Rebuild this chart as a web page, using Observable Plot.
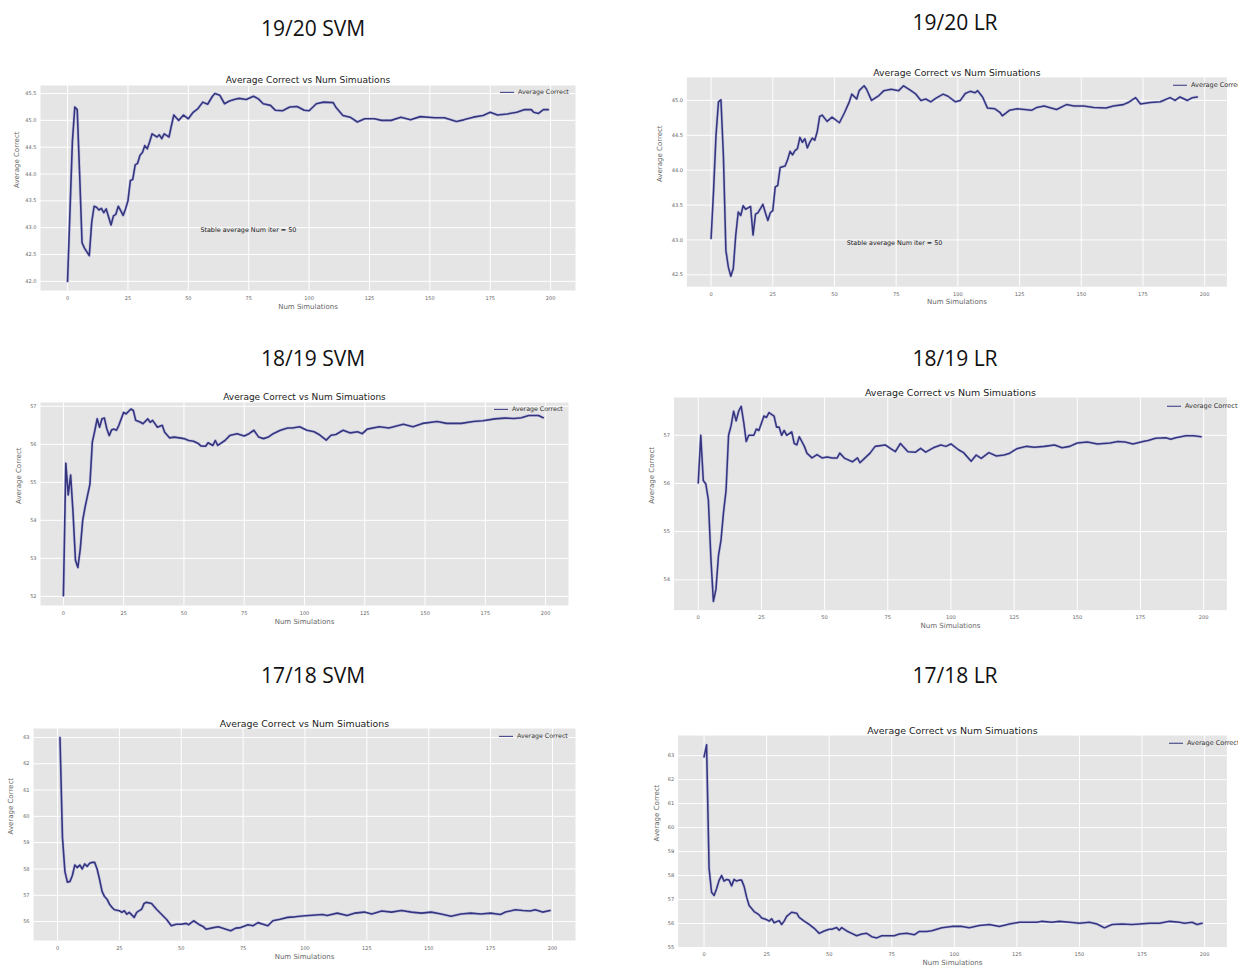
<!DOCTYPE html>
<html><head><meta charset="utf-8">
<script src="https://cdn.jsdelivr.net/npm/d3@7"></script>
<script src="https://cdn.jsdelivr.net/npm/@observablehq/plot@0.6"></script>
<style>
html,body{margin:0;padding:0;background:#fff;width:1238px;height:980px;overflow:hidden;}
#root{position:relative;width:1238px;height:980px;overflow:hidden;background:#fff;}
.heading{position:absolute;font-family:"Open Sans",sans-serif;font-size:21px;line-height:1;color:#111;transform:translate(-50%,-50%);white-space:nowrap;}
.panel{position:absolute;}
.legend{position:absolute;font-family:"DejaVu Sans",sans-serif;color:#333;display:flex;align-items:center;white-space:nowrap;transform:translateY(-50%);line-height:1;}
.legend .sw{display:inline-block;width:14px;height:0;border-top:1.7px solid #34347f;margin-right:4px;}
</style></head><body><div id="root"></div>
<script>
// ---------- data ----------
const xTicks = [0, 25, 50, 75, 100, 125, 150, 175, 200];
const headings = ["19/20 SVM", "19/20 LR", "18/19 SVM", "18/19 LR", "17/18 SVM", "17/18 LR"];
const plotTitle = "Average Correct vs Num Simuations";
const xLabel = "Num Simulations";
const yLabel = "Average Correct";
const seriesName = "Average Correct";
const noteText = ["Stable average Num iter = 50"];
const noteX = [55];
const noteY = [42.95];

const svm1920YTicks = [42.0, 42.5, 43.0, 43.5, 44.0, 44.5, 45.0, 45.5];
const lr1920YTicks = [42.5, 43.0, 43.5, 44.0, 44.5, 45.0];
const svm1819YTicks = [52, 53, 54, 55, 56, 57];
const lr1819YTicks = [54, 55, 56, 57];
const svm1718YTicks = [56, 57, 58, 59, 60, 61, 62, 63];
const lr1718YTicks = [55, 56, 57, 58, 59, 60, 61, 62, 63];

const svm1920X = [0,1,2,3,4,5,6,7,8,9,10,11,12,13,14,15,16,17,18,19,20,21,22,23,24,25,26,27,28,29,30,31,32,33,34,35,36,37,38,39,40,41,42,43,44,45,46,47,48,50,52,54,56,58,60,61,63,65,67,69,71,74,77,79,81,84,86,89,92,95,98,100,103,106,110,111,114,117,120,123,127,130,134,138,142,146,152,156,161,164,168,172,175,178,182,186,189,192,193,195,197,199];
const svm1920Y = [42.0,43.3,44.6,45.25,45.2,44.0,42.72,42.62,42.55,42.48,43.1,43.4,43.38,43.33,43.36,43.28,43.35,43.2,43.05,43.22,43.25,43.4,43.32,43.23,43.35,43.5,43.88,43.9,44.17,44.2,44.35,44.4,44.53,44.47,44.6,44.75,44.72,44.69,44.73,44.66,44.75,44.72,44.69,44.9,45.1,45.05,45.0,45.05,45.1,45.03,45.15,45.22,45.34,45.3,45.45,45.5,45.47,45.31,45.36,45.39,45.41,45.39,45.45,45.4,45.31,45.28,45.19,45.18,45.25,45.26,45.19,45.18,45.31,45.34,45.33,45.25,45.09,45.06,44.97,45.03,45.03,45.0,45.0,45.06,45.01,45.07,45.05,45.05,44.98,45.01,45.06,45.09,45.15,45.1,45.12,45.15,45.2,45.2,45.15,45.13,45.2,45.2];

const lr1920X = [0,1,2,3,4,5,6,7,8,9,10,11,12,13,14,15,16,17,18,19,20,21,22,23,24,25,26,27,28,29,30,31,32,33,34,35,36,37,38,39,40,41,42,43,44,45,47,49,52,54,56,57,59,60,62,63,65,68,70,73,76,78,81,83,85,87,89,91,94,96,99,101,103,105,107,108,110,112,115,117,118,121,124,127,130,132,135,137,140,144,147,151,155,160,163,167,169,172,174,178,182,186,188,190,193,195,197];
const lr1920Y = [43.02,43.7,44.5,44.98,45.01,44.2,42.85,42.61,42.48,42.59,43.07,43.4,43.35,43.49,43.44,43.46,43.48,43.07,43.37,43.39,43.45,43.51,43.39,43.28,43.39,43.42,43.76,43.78,44.04,44.05,44.06,44.15,44.27,44.22,44.28,44.31,44.47,44.4,44.45,44.32,44.4,44.46,44.43,44.55,44.77,44.79,44.7,44.76,44.68,44.82,44.98,45.09,45.02,45.14,45.21,45.16,45.0,45.07,45.14,45.16,45.14,45.21,45.14,45.09,45.0,45.02,44.98,45.03,45.09,45.06,44.98,45.0,45.1,45.13,45.11,45.14,45.05,44.89,44.88,44.83,44.78,44.86,44.88,44.87,44.86,44.9,44.92,44.9,44.87,44.94,44.92,44.92,44.9,44.89,44.92,44.94,44.97,45.04,44.95,44.97,44.98,45.04,45.0,45.05,45.0,45.04,45.05];

const svm1819X = [0,1,2,3,4,5,6,7,8,9,10,11,12,13,14,15,16,17,18,19,20,21,22,23,25,26,28,29,30,32,33,35,36,37,39,41,42,44,46,48,50,52,54,56,57,59,60,62,63,64,67,69,72,75,77,79,81,83,85,87,90,93,95,98,101,104,106,109,111,113,116,119,122,124,126,131,135,141,145,149,155,159,165,170,174,179,183,187,190,193,197,199];
const svm1819Y = [52.02,55.5,54.67,55.19,54.2,52.95,52.76,53.25,54.0,54.35,54.65,54.95,56.06,56.35,56.67,56.45,56.67,56.69,56.41,56.23,56.38,56.4,56.37,56.5,56.84,56.8,56.93,56.89,56.63,56.58,56.54,56.67,56.58,56.63,56.45,56.5,56.32,56.17,56.19,56.17,56.15,56.1,56.08,56.02,55.96,55.95,56.04,55.97,56.1,55.97,56.1,56.23,56.28,56.22,56.28,56.37,56.19,56.15,56.19,56.28,56.37,56.43,56.43,56.46,56.37,56.33,56.26,56.11,56.24,56.26,56.37,56.3,56.33,56.28,56.4,56.46,56.43,56.53,56.46,56.55,56.6,56.55,56.55,56.6,56.62,56.67,56.69,56.68,56.7,56.76,56.76,56.7];

const lr1819X = [0,1,2,3,4,5,6,7,8,9,10,11,12,13,14,15,16,17,18,19,20,22,23,24,26,27,28,30,31,32,33,34,35,37,38,39,40,42,43,45,47,49,51,53,55,56,58,61,63,64,66,68,70,74,76,78,80,83,86,88,90,93,96,98,100,103,105,108,110,112,115,118,121,123,126,130,133,137,141,144,147,150,154,158,163,166,169,172,176,178,181,185,187,189,193,196,199];
const lr1819Y = [56.01,57.0,56.06,55.99,55.66,54.45,53.55,53.8,54.5,54.82,55.4,55.85,57.0,57.2,57.5,57.3,57.5,57.6,57.27,56.87,57.0,57.0,57.13,57.1,57.4,57.37,57.47,57.4,57.17,57.17,57.0,57.1,57.0,57.07,56.83,56.8,56.97,56.77,56.63,56.53,56.6,56.53,56.55,56.53,56.53,56.63,56.52,56.45,56.53,56.43,56.53,56.63,56.77,56.8,56.73,56.66,56.83,56.66,56.65,56.73,56.65,56.74,56.8,56.77,56.82,56.7,56.64,56.46,56.59,56.52,56.64,56.57,56.59,56.62,56.72,56.77,56.75,56.77,56.8,56.74,56.77,56.84,56.86,56.82,56.84,56.87,56.86,56.82,56.87,56.89,56.94,56.95,56.92,56.95,56.99,56.99,56.97];

const svm1718X = [1,2,3,4,5,6,7,8,9,10,11,12,13,14,15,16,17,18,19,20,21,22,23,25,26,27,28,29,31,32,34,35,36,38,40,42,44,46,48,50,52,53,55,57,59,60,63,65,68,70,72,74,77,79,81,83,85,87,90,93,96,100,103,107,109,113,117,120,124,127,131,135,139,143,147,151,155,159,163,167,171,175,179,181,185,188,191,193,196,199];
const svm1718Y = [63.0,59.2,57.9,57.5,57.52,57.75,58.15,58.05,58.15,58.0,58.19,58.1,58.22,58.25,58.25,58.0,57.6,57.15,56.95,56.85,56.66,56.54,56.45,56.41,56.35,56.41,56.28,56.35,56.16,56.35,56.47,56.69,56.73,56.69,56.47,56.28,56.09,55.84,55.9,55.9,55.93,55.88,56.03,55.9,55.8,55.71,55.77,55.8,55.71,55.65,55.75,55.77,55.88,55.84,55.96,55.9,55.84,56.03,56.09,56.16,56.18,56.22,56.24,56.27,56.23,56.32,56.23,56.32,56.36,56.29,56.4,56.36,56.42,56.36,56.32,56.36,56.29,56.2,56.29,56.32,56.29,56.32,56.27,56.36,56.45,56.42,56.4,56.45,56.36,56.42];

const lr1718X = [0,1,2,3,4,5,6,7,8,9,10,11,12,13,14,15,16,17,18,19,20,21,22,23,24,25,26,27,28,30,31,32,33,35,37,38,40,42,44,46,48,50,51,53,54,55,57,59,61,63,65,67,69,71,73,76,78,81,84,86,89,91,95,99,103,106,110,114,118,122,126,130,133,135,139,142,146,150,154,157,160,163,167,171,174,178,182,186,190,192,195,197,199];
const lr1718Y = [62.95,63.45,58.3,57.3,57.17,57.45,57.8,58.0,57.77,57.84,57.81,57.57,57.84,57.77,57.81,57.81,57.55,57.1,56.75,56.63,56.5,56.43,56.36,56.23,56.2,56.16,56.1,56.2,56.03,56.12,55.96,56.1,56.3,56.47,56.43,56.26,56.1,55.96,55.8,55.59,55.69,55.76,55.76,55.83,55.72,55.83,55.69,55.59,55.49,55.56,55.59,55.45,55.4,55.49,55.49,55.49,55.56,55.59,55.53,55.67,55.67,55.7,55.82,55.88,55.88,55.82,55.92,55.96,55.88,55.98,56.05,56.05,56.05,56.09,56.05,56.09,56.05,56.01,56.05,55.98,55.82,55.96,55.98,55.96,55.98,56.01,56.01,56.09,56.05,56.01,56.05,55.96,56.01];

// ---------- layout (page pixels of each screenshot's plot frame) ----------
const panels = [
  {heading: headings[0], h: [313, 28], frame: [40, 85, 575, 290], xd: [-11.2, 210.3], yd: [41.83, 45.65], xs: svm1920X, ys: svm1920Y, yt: svm1920YTicks, fmt: ".1f", yl: 16, legend: [500, 92], fs: {title: 9.1, tick: 5, lab: 7, leg: 6.3, note: 6.4}, note: true},
  {heading: headings[1], h: [955, 22], frame: [688, 78, 1248, 295], xd: [-9.8, 209], yd: [42.33, 45.33], xs: lr1920X, ys: lr1920Y, yt: lr1920YTicks, fmt: ".1f", yl: 660, legend: [1173, 85], fs: {title: 9.6, tick: 5.3, lab: 7.3, leg: 6.5, note: 6.6}, note: true},
  {heading: headings[2], h: [313, 358], frame: [40, 402, 568, 605], xd: [-9.5, 209.5], yd: [51.76, 57.1], xs: svm1819X, ys: svm1819Y, yt: svm1819YTicks, fmt: "d", yl: 18, legend: [494, 409], fs: {title: 9.0, tick: 5, lab: 7, leg: 6.3}},
  {heading: headings[3], h: [955, 358], frame: [675, 398, 1247, 618], xd: [-9.6, 209.2], yd: [53.37, 57.785], xs: lr1819X, ys: lr1819Y, yt: lr1819YTicks, fmt: "d", yl: 652, legend: [1167, 406], fs: {title: 9.8, tick: 5.3, lab: 7.3, leg: 6.5}},
  {heading: headings[4], h: [313, 675], frame: [33, 728, 575, 940], xd: [-9.7, 209.3], yd: [55.28, 63.34], xs: svm1718X, ys: svm1718Y, yt: svm1718YTicks, fmt: "d", yl: 10, legend: [499, 736], fs: {title: 9.4, tick: 5, lab: 7, leg: 6.3}},
  {heading: headings[5], h: [955, 675], frame: [679, 736, 1246, 955], xd: [-10.4, 208.9], yd: [55.0, 63.84], xs: lr1718X, ys: lr1718Y, yt: lr1718YTicks, fmt: "d", yl: 657, legend: [1169, 743], fs: {title: 9.75, tick: 5.3, lab: 7.3, leg: 6.5}}
];

const root = document.getElementById("root");
const lineColor = "#34347f";

for (const p of panels) {
  const [fx0, fy0, fx1, fy1] = p.frame;
  const mL = Math.min(45, fx0), mT = 30, mR = 12, mB = 34;
  const width = (fx1 - fx0) + mL + mR;
  const height = (fy1 - fy0) + mT + mB;
  const data = p.xs.map((x, i) => ({x, y: p.ys[i]}));
  const marks = [
    Plot.frame({fill: "#e5e5e5", stroke: "none"}),
    Plot.gridX(xTicks, {stroke: "#ffffff", strokeOpacity: 1, strokeWidth: 1}),
    Plot.gridY(p.yt, {stroke: "#ffffff", strokeOpacity: 1, strokeWidth: 1}),
    Plot.line(data, {x: "x", y: "y", stroke: "#8a8ad8", strokeWidth: 3, strokeOpacity: 0.35}),
    Plot.line(data, {x: "x", y: "y", stroke: lineColor, strokeWidth: 1.6}),
    Plot.axisX(xTicks, {tickSize: 0, tickPadding: 5.5, fontSize: p.fs.tick, fill: "#666", label: null}),
    Plot.axisY(p.yt, {tickSize: 0, tickPadding: 4, fontSize: p.fs.tick, fill: "#666", tickFormat: d3.format(p.fmt), label: null}),
    Plot.text([plotTitle], {text: d => d, frameAnchor: "top", dy: -8.5, fontSize: p.fs.title, fill: "#222"}),
    Plot.text([xLabel], {text: d => d, frameAnchor: "bottom", dy: 18, fontSize: p.fs.lab, fill: "#666"}),
    Plot.text([yLabel], {text: d => d, frameAnchor: "left", rotate: -90, dx: p.yl - fx0, fontSize: p.fs.lab, fill: "#666"})
  ];
  if (p.note) {
    marks.push(Plot.text(noteText, {x: (d, i) => noteX[i], y: (d, i) => noteY[i], text: d => d, textAnchor: "start", fontSize: p.fs.note, fill: "#222"}));
  }
  const svg = Plot.plot({
    width, height, marginLeft: mL, marginRight: mR, marginTop: mT, marginBottom: mB,
    style: {fontFamily: "DejaVu Sans, sans-serif", background: "transparent", overflow: "visible"},
    x: {domain: p.xd},
    y: {domain: p.yd},
    marks
  });
  const wrap = document.createElement("div");
  wrap.className = "panel";
  wrap.style.left = (fx0 - mL) + "px";
  wrap.style.top = (fy0 - mT) + "px";
  wrap.appendChild(svg);
  root.appendChild(wrap);

  const hd = document.createElement("div");
  hd.className = "heading";
  hd.style.left = p.h[0] + "px";
  hd.style.top = p.h[1] + "px";
  hd.textContent = p.heading;
  root.appendChild(hd);

  const lg = document.createElement("div");
  lg.className = "legend";
  lg.style.left = p.legend[0] + "px";
  lg.style.top = p.legend[1] + "px";
  lg.style.fontSize = p.fs.leg + "px";
  const sw = document.createElement("span");
  sw.className = "sw";
  const tx = document.createElement("span");
  tx.textContent = seriesName;
  lg.appendChild(sw);
  lg.appendChild(tx);
  root.appendChild(lg);
}
</script></body></html>
